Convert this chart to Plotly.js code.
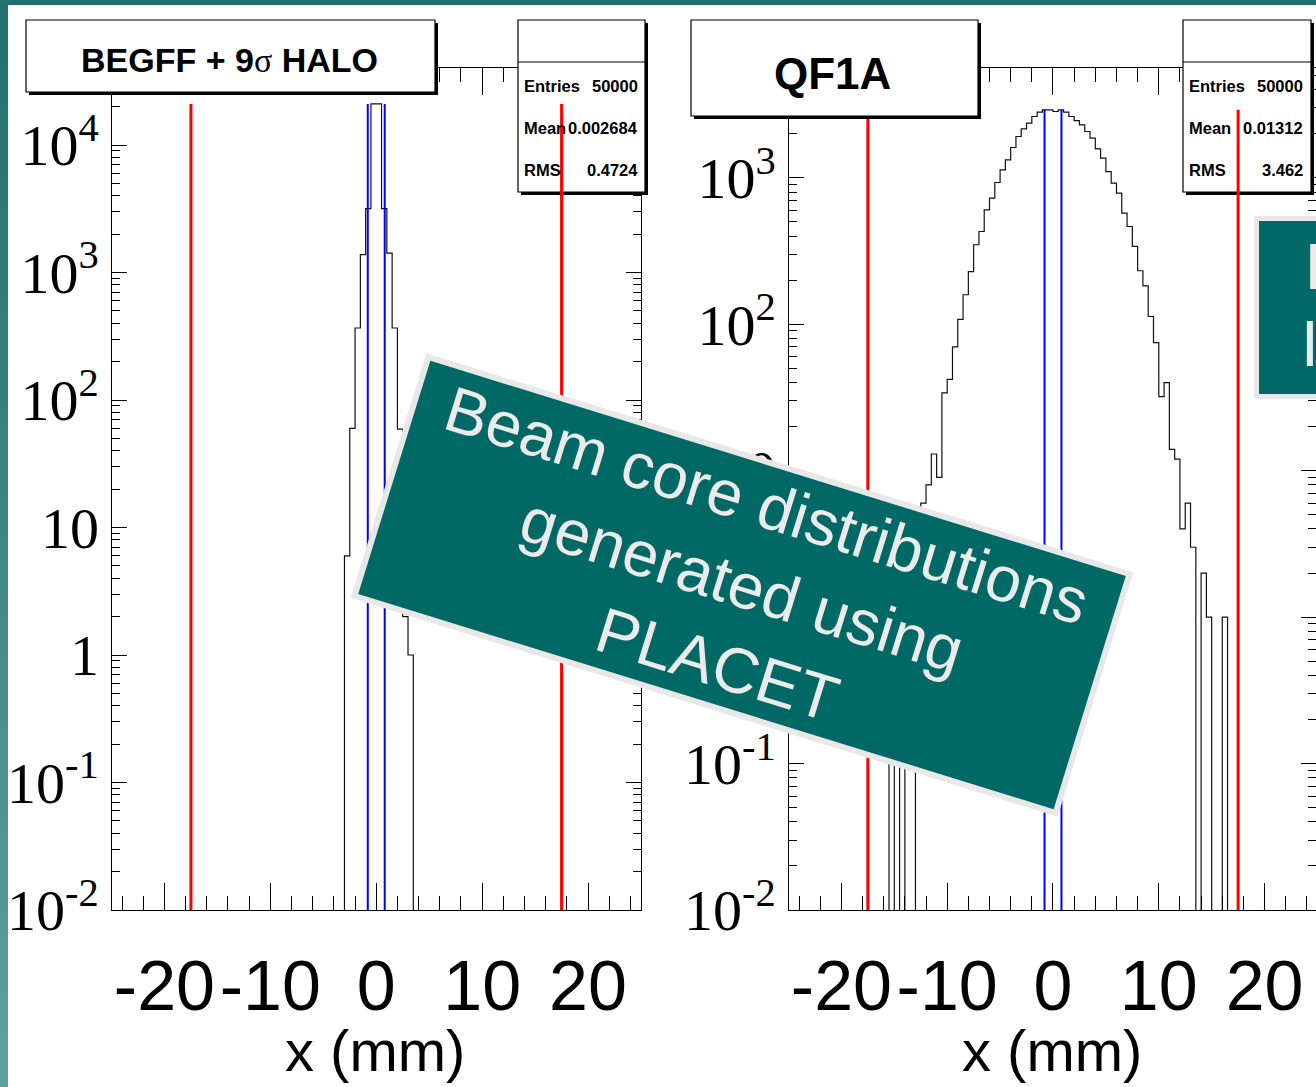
<!DOCTYPE html>
<html><head><meta charset="utf-8">
<script src="https://cdn.plot.ly/plotly-3.0.1.min.js"></script>
<style>
html,body{margin:0;padding:0;}
body{width:1316px;height:1087px;overflow:hidden;position:relative;
 background:linear-gradient(to bottom,#21706f 0%,#3c8483 45%,#5ea2a0 100%);}
#topband{position:absolute;left:0;top:0;width:1316px;height:5px;background:#22706f;}
#sheet{position:absolute;left:8px;top:5px;right:0;bottom:0;background:#ffffff;}
#chart{position:absolute;left:0;top:0;width:1316px;height:1087px;}
</style></head><body>
<div id="topband"></div><div id="sheet"></div><div id="chart"></div>
<script>
// ---------------- data ----------------
const binWidth = 0.5;                       // mm
const begffStart = -3.0;                    // left edge of first listed bin (mm)
const begffCounts = [6, 60, 367, 1380, 3170, 21000, 21000, 3170, 1420, 367, 59, 2, 1];
const qf1aStart = -15.5;
const qf1aCounts = [1, 0, 1, 0, 0, 2, 6, 8, 13, 9, 34, 42, 70, 108, 159, 229, 349, 430, 604, 727,
  929, 1134, 1328, 1611, 1915, 2161, 2365, 2624, 2812, 2913, 2913, 2837, 2913, 2812, 2624, 2460,
  2301, 2072, 1866, 1578, 1364, 1104, 920, 786, 574, 465, 340, 232, 183, 113, 75, 32, 40, 14, 12,
  4, 6, 3, 0, 2, 1, 0, 0, 1];
const redCuts = [-17.5, 17.5];
const blueCuts = [-0.8, 0.8];
const panelTitles = ['BEGFF + 9<span style="font-family:Liberation Serif;font-weight:normal">σ</span> HALO', 'QF1A'];
const statLabels = ['Entries', 'Mean', 'RMS'];
const statsBEGFF = ['50000', '0.002684', '0.4724'];
const statsQF1A = ['50000', '0.01312', '3.462'];
const xTickVals = [-20, -10, 0, 10, 20];
const xTickText = ['-20', '-10', '0', '10', '20'];
const yTickValsL = [0.01, 0.1, 1, 10, 100, 1000, 10000];
const yTickTextL = ['10<sup>-2</sup>', '10<sup>-1</sup>', '1', '10', '10<sup>2</sup>', '10<sup>3</sup>', '10<sup>4</sup>'];
const yTickValsR = [0.01, 0.1, 1, 10, 100, 1000];
const yTickTextR = ['10<sup>-2</sup>', '10<sup>-1</sup>', '1', '10', '10<sup>2</sup>', '10<sup>3</sup>'];
const xTitle = 'x (mm)';
const noteText = 'Beam core distributions<br>generated using<br>PLACET';
const sideNoteLines = ['L', 'I'];

// ---------------- helpers ----------------
const W = 1316, H = 1087;
const fx = p => p / W;
const fy = p => 1 - p / H;
const SANS = 'Liberation Sans, Arial, sans-serif';
const SERIF = 'Liberation Serif, Times New Roman, serif';

function stepLine(start, width, counts, floor) {
  const xs = [start], ys = [floor];
  counts.forEach((c, i) => {
    const v = c > 0 ? c : floor;
    xs.push(start + i * width, start + (i + 1) * width);
    ys.push(v, v);
  });
  xs.push(start + counts.length * width); ys.push(floor);
  return {xs, ys};
}
const xMinor = [];
for (let v = -24; v <= 24; v += 2) if (v % 10 !== 0) xMinor.push(v);
function logMinor(d0, d1) {
  const out = [];
  for (let d = d0; d <= d1; d++) for (let m = 2; m <= 9; m++) out.push(m * Math.pow(10, d));
  return out;
}

function xAxis(domain, range, anchor) {
  return {domain, range, anchor, showline: true, linecolor: '#000', linewidth: 1, mirror: 'ticks',
    ticks: 'inside', ticklen: 27, tickwidth: 1, tickcolor: '#000',
    tickmode: 'array', tickvals: xTickVals, ticktext: xTickText, tickangle: 0,
    tickfont: {family: SANS, size: 70, color: '#000'}, ticklabelstandoff: 15,
    minor: {ticks: 'inside', ticklen: 14, tickwidth: 1, tickcolor: '#000', tickmode: 'array', tickvals: xMinor, showgrid: false},
    showgrid: false, zeroline: false, fixedrange: true};
}
function yAxis(domain, range, anchor, vals, text, minorVals) {
  return {type: 'log', domain, range, anchor, showline: true, linecolor: '#000', linewidth: 1, mirror: 'ticks',
    ticks: 'inside', ticklen: 15, tickwidth: 1, tickcolor: '#000',
    tickmode: 'array', tickvals: vals, ticktext: text,
    tickfont: {family: SERIF, size: 58, color: '#000'}, ticklabelstandoff: 0,
    minor: {ticks: 'inside', ticklen: 8, tickwidth: 1, tickcolor: '#000', tickmode: 'array', tickvals: minorVals, showgrid: false},
    showgrid: false, zeroline: false, fixedrange: true};
}

const yDom = [fy(910), fy(68)];
const yRangeL = [-2, 4.604];
const yRangeR = [-2, 3.75];

// ---------------- traces ----------------
const hL = stepLine(begffStart, binWidth, begffCounts, 1e-4);
const hR = stepLine(qf1aStart, binWidth, qf1aCounts, 1e-4);
const traces = [
  {x: hL.xs, y: hL.ys, xaxis: 'x', yaxis: 'y', type: 'scatter', mode: 'lines',
   line: {color: '#111', width: 1.2}, hoverinfo: 'skip', showlegend: false},
  {x: hR.xs, y: hR.ys, xaxis: 'x2', yaxis: 'y2', type: 'scatter', mode: 'lines',
   line: {color: '#111', width: 1.2}, hoverinfo: 'skip', showlegend: false}
];

// ---------------- boxes & lines ----------------
const shapes = [];
function pave(x0, y0, x1, y1, sepY) {
  shapes.push({type: 'rect', xref: 'paper', yref: 'paper', x0: fx(x0 + 3), x1: fx(x1 + 3), y0: fy(y0 + 3), y1: fy(y1 + 3),
    fillcolor: '#000', line: {width: 0}, layer: 'above'});
  shapes.push({type: 'rect', xref: 'paper', yref: 'paper', x0: fx(x0), x1: fx(x1), y0: fy(y0), y1: fy(y1),
    fillcolor: '#fff', line: {color: '#000', width: 1.2}, layer: 'above'});
  if (sepY) shapes.push({type: 'line', xref: 'paper', yref: 'paper', x0: fx(x0), x1: fx(x1), y0: fy(sepY), y1: fy(sepY),
    line: {color: '#000', width: 1.2}, layer: 'above'});
}
// stats boxes
pave(518, 20, 645, 192, 62);
pave(1183, 20, 1311, 192, 62);
// cut lines drawn from the axis minimum up to the histogram maximum
function cutLines(xref, yref, yMinLog, counts) {
  const bottom = Math.pow(10, yMinLog);
  const top = Math.max(...counts);
  redCuts.forEach(c => shapes.push({type: 'line', xref, yref, x0: c, x1: c, y0: bottom, y1: top,
    line: {color: '#ff0000', width: 3}, layer: 'above'}));
  blueCuts.forEach(c => shapes.push({type: 'line', xref, yref, x0: c, x1: c, y0: bottom, y1: top,
    line: {color: '#0000ff', width: 2}, layer: 'above'}));
}
cutLines('x', 'y', yRangeL[0], begffCounts);
cutLines('x2', 'y2', yRangeR[0], qf1aCounts);
// title boxes
pave(26, 20, 435, 92);
pave(691, 20, 978, 116);
// teal side box at right edge
shapes.push({type: 'rect', xref: 'paper', yref: 'paper', x0: fx(1256.5), x1: fx(1340), y0: fy(218.5), y1: fy(396.5),
  fillcolor: '#006866', line: {color: '#e8e8e8', width: 5}, layer: 'above'});

// ---------------- annotations ----------------
const ann = [];
function txt(x, y, text, size, opts) {
  ann.push(Object.assign({xref: 'paper', yref: 'paper', x: fx(x), y: fy(y), text, showarrow: false,
    xanchor: 'center', yanchor: 'middle', font: {family: SANS, size, color: '#000'}}, opts || {}));
}
txt(229, 60, panelTitles[0], 34, {font: {family: SANS, size: 34, color: '#000', weight: 700}});
txt(832, 73, panelTitles[1], 44, {font: {family: SANS, size: 44, color: '#000', weight: 700}});
const rowsY = [86, 128, 170];
const sFont = {family: SANS, size: 16.5, color: '#000', weight: 700};
statLabels.forEach((lab, i) => {
  txt(522, rowsY[i], lab, 16.5, {xanchor: 'left', font: sFont});
  txt(640, rowsY[i], statsBEGFF[i], 16.5, {xanchor: 'right', font: sFont});
  txt(1187, rowsY[i], lab, 16.5, {xanchor: 'left', font: sFont});
  txt(1305, rowsY[i], statsQF1A[i], 16.5, {xanchor: 'right', font: sFont});
});
txt(375, 1050, xTitle, 58);
txt(1052, 1050, xTitle, 58);
// rotated teal note
ann.push({xref: 'paper', yref: 'paper', x: fx(742), y: fy(585), xanchor: 'center', yanchor: 'middle',
  text: noteText, showarrow: false, textangle: 17.2, align: 'center', valign: 'middle',
  font: {family: SANS, size: 64, color: '#ebebeb'}, bgcolor: '#006966', bordercolor: '#e8e8e8',
  borderwidth: 6, borderpad: 0, width: 728, height: 244});
// cropped text of right side note
txt(1303, 267, sideNoteLines[0], 64, {xanchor: 'left', font: {family: SANS, size: 64, color: '#ebebeb'}});
txt(1299, 344, sideNoteLines[1], 64, {xanchor: 'left', font: {family: SANS, size: 64, color: '#ebebeb'}});

// ---------------- layout ----------------
const layout = {
  width: W, height: H, margin: {l: 0, r: 0, t: 0, b: 0},
  paper_bgcolor: 'rgba(0,0,0,0)', plot_bgcolor: 'rgba(0,0,0,0)',
  showlegend: false, hovermode: false,
  xaxis: xAxis([fx(111.5), fx(641)], [-25, 25], 'y'),
  yaxis: yAxis(yDom, yRangeL, 'x', yTickValsL, yTickTextL, logMinor(-2, 4)),
  xaxis2: xAxis([fx(788.5), 1], [-25, 24.86], 'y2'),
  yaxis2: yAxis(yDom, yRangeR, 'x2', yTickValsR, yTickTextR, logMinor(-2, 3)),
  shapes, annotations: ann
};
Plotly.newPlot('chart', traces, layout, {staticPlot: true, displayModeBar: false});
</script></body></html>
